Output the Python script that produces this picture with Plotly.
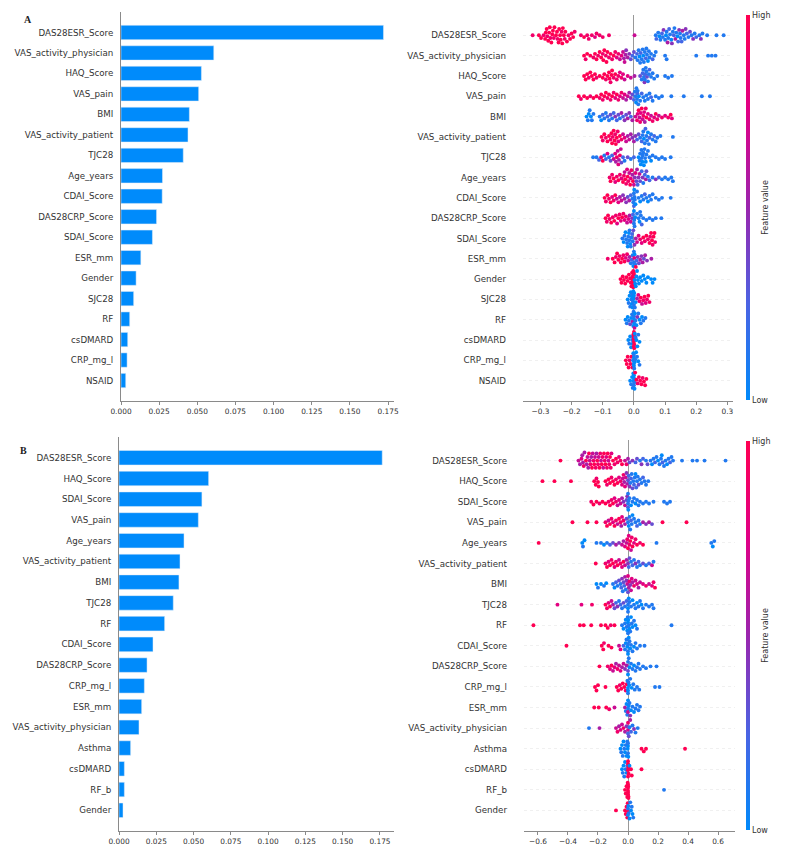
import numpy as np
import plotly.graph_objects as go

# ---------------- data ----------------
features_A = ["DAS28ESR_Score", "VAS_activity_physician", "HAQ_Score", "VAS_pain", "BMI",
              "VAS_activity_patient", "TJC28", "Age_years", "CDAI_Score", "DAS28CRP_Score",
              "SDAI_Score", "ESR_mm", "Gender", "SJC28", "RF", "csDMARD", "CRP_mg_l", "NSAID"]
bar_A = [0.172, 0.0608, 0.0527, 0.0509, 0.0448, 0.0439, 0.0408, 0.0272, 0.0270, 0.0233,
         0.0206, 0.0130, 0.0099, 0.0083, 0.0057, 0.0044, 0.0040, 0.0031]

features_B = ["DAS28ESR_Score", "HAQ_Score", "SDAI_Score", "VAS_pain", "Age_years",
              "VAS_activity_patient", "BMI", "TJC28", "RF", "CDAI_Score", "DAS28CRP_Score",
              "CRP_mg_l", "ESR_mm", "VAS_activity_physician", "Asthma", "csDMARD", "RF_b", "Gender"]
bar_B = [0.1765, 0.0601, 0.0556, 0.0532, 0.0436, 0.0409, 0.0402, 0.0364, 0.0306, 0.0228,
         0.0188, 0.0170, 0.0152, 0.0134, 0.0078, 0.0036, 0.0036, 0.0027]

# SHAP points per feature: "shap_value:feature_level(0 low .. 9 high)"
shap_A = [
    "-0.325:8 -0.305:9 -0.298:9 -0.29:8 -0.285:9 -0.283:9 -0.28:9 -0.278:8 -0.275:9 -0.272:9 -0.27:9 -0.268:8 -0.265:9 -0.262:9 -0.26:9 -0.257:8 -0.255:9 -0.25:9 -0.247:9 -0.245:8 -0.242:9 -0.24:9 -0.237:9 -0.235:9 -0.232:8 -0.23:9 -0.228:9 -0.225:9 -0.222:8 -0.22:9 -0.215:9 -0.21:8 -0.205:9 -0.2:9 -0.195:9 -0.19:8 -0.17:8 -0.16:9 -0.15:8 -0.145:8 -0.135:8 -0.125:7 -0.12:8 -0.11:8 -0.1:8 -0.08:8 0.002:6 0.07:1 0.072:2 0.078:1 0.082:0 0.085:1 0.09:2 0.093:1 0.095:4 0.1:1 0.103:0 0.105:1 0.108:5 0.11:1 0.113:2 0.116:1 0.12:0 0.122:4 0.125:1 0.128:2 0.13:1 0.133:5 0.136:1 0.14:0 0.142:2 0.145:4 0.148:1 0.15:1 0.153:2 0.156:5 0.16:1 0.163:1 0.166:4 0.17:2 0.175:1 0.18:3 0.185:1 0.19:4 0.195:1 0.2:2 0.21:1 0.215:4 0.22:1 0.235:1 0.265:1 0.288:1",
    "-0.16:9 -0.155:8 -0.15:9 -0.14:9 -0.13:8 -0.125:9 -0.12:9 -0.115:8 -0.11:9 -0.105:9 -0.1:8 -0.098:9 -0.095:9 -0.09:8 -0.088:9 -0.085:9 -0.08:8 -0.075:9 -0.07:8 -0.065:9 -0.06:8 -0.055:7 -0.05:8 -0.045:6 -0.04:7 -0.035:6 -0.032:5 -0.03:6 -0.027:5 -0.025:4 -0.02:5 -0.015:4 -0.01:3 -0.005:2 0.0:3 0.005:1 0.01:2 0.012:1 0.015:1 0.018:0 0.02:1 0.022:2 0.025:1 0.028:1 0.03:0 0.032:1 0.035:1 0.038:2 0.04:1 0.042:1 0.045:0 0.048:1 0.05:1 0.055:1 0.06:2 0.065:1 0.07:1 0.1:1 0.105:1 0.2:1 0.238:1 0.25:1 0.262:1",
    "-0.16:9 -0.155:9 -0.15:9 -0.145:8 -0.14:9 -0.135:9 -0.13:9 -0.125:9 -0.12:8 -0.11:9 -0.1:9 -0.095:9 -0.09:8 -0.085:9 -0.08:9 -0.078:9 -0.075:8 -0.072:9 -0.07:9 -0.065:8 -0.06:9 -0.055:8 -0.05:8 -0.045:7 -0.04:8 -0.035:7 -0.03:6 -0.02:7 -0.01:6 0.002:5 0.02:3 0.025:1 0.028:2 0.03:1 0.032:1 0.034:4 0.035:1 0.036:2 0.038:1 0.04:1 0.042:3 0.045:1 0.048:1 0.05:2 0.055:1 0.06:1 0.065:1 0.075:1 0.1:1 0.11:1 0.122:1",
    "-0.177:9 -0.17:8 -0.16:9 -0.15:9 -0.14:8 -0.13:9 -0.12:9 -0.11:8 -0.105:9 -0.1:8 -0.095:9 -0.09:9 -0.085:8 -0.08:9 -0.075:8 -0.07:9 -0.065:8 -0.06:7 -0.055:9 -0.05:8 -0.045:7 -0.04:8 -0.035:6 -0.03:7 -0.025:5 -0.02:6 -0.015:5 -0.01:4 -0.005:3 0.0:2 0.003:1 0.005:1 0.007:0 0.008:1 0.01:1 0.011:2 0.012:1 0.014:1 0.016:0 0.02:1 0.025:2 0.03:1 0.035:1 0.04:1 0.045:1 0.05:1 0.055:2 0.06:1 0.07:1 0.08:1 0.09:1 0.12:1 0.16:1 0.218:1 0.244:1",
    "-0.152:0 -0.148:1 -0.145:0 -0.142:1 -0.138:0 -0.135:1 -0.13:1 -0.11:1 -0.105:0 -0.1:2 -0.095:1 -0.09:1 -0.085:2 -0.08:1 -0.075:3 -0.07:1 -0.065:2 -0.06:4 -0.055:2 -0.05:3 -0.045:1 -0.04:5 -0.035:2 -0.03:4 -0.025:3 -0.02:5 -0.015:4 -0.01:2 -0.005:5 0.005:6 0.01:8 0.012:7 0.015:9 0.018:6 0.02:8 0.022:7 0.025:9 0.028:6 0.03:8 0.033:7 0.035:5 0.038:8 0.04:9 0.045:7 0.05:8 0.055:6 0.06:8 0.065:7 0.07:9 0.075:8 0.08:6 0.09:8 0.1:7 0.11:8 0.118:9 0.122:7",
    "-0.104:9 -0.1:8 -0.095:9 -0.09:8 -0.085:9 -0.08:9 -0.075:8 -0.072:9 -0.07:9 -0.068:8 -0.065:9 -0.062:9 -0.06:8 -0.058:9 -0.055:9 -0.052:8 -0.05:7 -0.045:9 -0.04:8 -0.035:6 -0.03:7 -0.025:6 -0.02:5 -0.015:6 -0.01:5 -0.005:4 0.0:5 0.005:4 0.01:2 0.015:3 0.02:1 0.025:2 0.028:1 0.03:1 0.032:0 0.035:1 0.037:2 0.04:1 0.042:1 0.045:0 0.048:1 0.05:2 0.055:1 0.06:1 0.065:2 0.07:1 0.075:1 0.085:1 0.125:1",
    "-0.131:1 -0.12:1 -0.112:2 -0.105:8 -0.1:9 -0.095:1 -0.09:2 -0.085:7 -0.08:1 -0.075:3 -0.07:2 -0.065:6 -0.06:7 -0.058:5 -0.055:8 -0.052:6 -0.05:7 -0.048:5 -0.045:8 -0.042:6 -0.04:3 -0.035:2 -0.03:1 -0.02:3 -0.01:1 0.0:2 0.015:0 0.018:1 0.02:1 0.022:0 0.024:1 0.025:1 0.027:0 0.028:1 0.03:1 0.032:0 0.034:1 0.036:1 0.038:0 0.04:1 0.045:1 0.05:1 0.055:0 0.06:1 0.07:1 0.08:1 0.09:1 0.1:1 0.118:1",
    "-0.078:8 -0.075:9 -0.07:8 -0.065:9 -0.06:7 -0.055:8 -0.05:9 -0.045:8 -0.04:7 -0.035:9 -0.032:8 -0.03:6 -0.028:9 -0.025:8 -0.022:7 -0.02:9 -0.018:8 -0.015:6 -0.012:9 -0.01:7 -0.008:8 -0.005:5 -0.003:9 0.0:6 0.003:4 0.005:7 0.008:3 0.01:5 0.012:2 0.015:4 0.018:6 0.02:3 0.025:2 0.028:4 0.03:1 0.035:2 0.038:5 0.04:3 0.045:1 0.05:2 0.06:1 0.07:4 0.08:2 0.09:1 0.1:1 0.11:1 0.12:1 0.125:1",
    "-0.094:9 -0.09:8 -0.085:9 -0.08:8 -0.075:9 -0.07:7 -0.065:8 -0.06:9 -0.055:6 -0.05:7 -0.045:5 -0.04:6 -0.035:4 -0.03:5 -0.025:4 -0.02:3 -0.015:5 -0.01:2 -0.005:1 -0.002:1 0.0:1 0.0:2 0.001:0 0.002:1 0.003:1 0.005:0 0.01:1 0.015:1 0.02:0 0.025:1 0.03:1 0.035:2 0.04:1 0.045:0 0.05:1 0.055:1 0.06:1 0.07:1 0.08:1 0.09:1 0.118:1",
    "-0.091:9 -0.087:8 -0.083:9 -0.078:8 -0.073:9 -0.068:8 -0.063:9 -0.058:8 -0.054:7 -0.05:9 -0.046:8 -0.042:7 -0.038:9 -0.034:8 -0.03:7 -0.026:8 -0.022:6 -0.018:7 -0.014:5 -0.01:6 -0.006:4 -0.003:2 0.0:1 0.0:0 0.001:1 0.002:1 0.004:0 0.01:1 0.015:1 0.018:0 0.02:1 0.022:1 0.025:2 0.03:1 0.04:1 0.05:1 0.06:1 0.07:1 0.088:1",
    "-0.037:1 -0.033:0 -0.03:1 -0.027:0 -0.025:1 -0.022:1 -0.02:0 -0.018:1 -0.016:0 -0.015:1 -0.014:1 -0.012:0 -0.01:1 -0.008:1 -0.006:2 -0.004:1 -0.002:3 0.002:4 0.006:5 0.01:6 0.015:7 0.02:8 0.025:7 0.03:9 0.035:8 0.04:9 0.045:8 0.05:9 0.052:8 0.055:9 0.058:9 0.06:8 0.063:9 0.066:9 0.068:8",
    "-0.084:8 -0.068:9 -0.062:9 -0.058:8 -0.054:9 -0.05:9 -0.046:8 -0.042:9 -0.038:9 -0.034:8 -0.03:9 -0.026:7 -0.022:8 -0.018:6 -0.014:5 -0.01:1 -0.007:2 -0.004:1 -0.002:0 0.0:1 0.0:1 0.001:7 0.002:0 0.004:1 0.006:9 0.008:2 0.012:4 0.016:3 0.02:5 0.024:4 0.028:5 0.032:3 0.036:5 0.042:4 0.056:5",
    "-0.043:9 -0.04:9 -0.036:9 -0.032:9 -0.028:9 -0.024:9 -0.02:9 -0.016:9 -0.012:9 -0.01:9 -0.008:9 -0.006:9 -0.005:9 -0.004:9 -0.003:9 -0.002:9 -0.002:9 -0.001:9 -0.001:9 0.0:9 0.0:9 0.002:0 0.004:0 0.006:0 0.008:0 0.01:0 0.013:0 0.016:0 0.02:0 0.025:0 0.03:0 0.035:0 0.04:0 0.045:0 0.055:0 0.06:0 0.066:0",
    "-0.02:0 -0.017:1 -0.014:0 -0.012:1 -0.01:0 -0.008:1 -0.007:0 -0.006:0 -0.005:1 -0.004:0 -0.003:1 -0.002:0 -0.001:0 0.0:1 0.0:0 0.001:0 0.003:1 0.006:0 0.01:5 0.014:7 0.018:8 0.022:9 0.026:6 0.03:8 0.034:9 0.038:7 0.042:8 0.046:9 0.05:8",
    "-0.027:0 -0.023:1 -0.02:0 -0.016:1 -0.012:3 -0.009:0 -0.006:1 -0.004:5 -0.002:0 -0.001:1 0.0:0 0.0:1 0.001:0 0.002:6 0.003:0 0.005:1 0.008:0 0.011:4 0.014:1 0.018:0 0.022:1 0.026:0 0.03:1 0.037:1",
    "-0.018:0 -0.015:1 -0.012:0 -0.009:0 -0.006:1 -0.004:0 -0.002:9 -0.001:9 0.0:9 0.0:9 0.0:9 0.0:9 0.001:9 0.001:9 0.002:9 0.003:0 0.005:1 0.008:0 0.011:0 0.014:1 0.018:0",
    "-0.026:9 -0.023:9 -0.02:9 -0.017:9 -0.014:8 -0.011:9 -0.008:9 -0.005:9 -0.003:1 -0.002:0 -0.001:1 0.0:0 0.0:1 0.0:0 0.001:1 0.002:0 0.004:1 0.007:0 0.01:1 0.014:0 0.018:1",
    "-0.012:0 -0.009:1 -0.006:0 -0.004:1 -0.002:0 -0.001:0 0.0:1 0.0:0 0.0:0 0.001:1 0.002:0 0.004:9 0.008:9 0.012:8 0.016:9 0.02:9 0.024:9 0.028:8 0.032:9 0.036:9 0.04:9",
]

shap_B = [
    "-0.45:9 -0.33:6 -0.32:5 -0.31:7 -0.305:5 -0.3:5 -0.295:8 -0.29:5 -0.28:9 -0.275:5 -0.27:6 -0.265:5 -0.26:9 -0.255:6 -0.25:8 -0.245:5 -0.24:9 -0.235:6 -0.23:8 -0.225:9 -0.22:6 -0.215:8 -0.21:5 -0.205:9 -0.2:8 -0.195:6 -0.19:9 -0.185:8 -0.18:6 -0.175:9 -0.17:8 -0.165:6 -0.16:9 -0.155:8 -0.15:9 -0.145:7 -0.14:8 -0.135:9 -0.13:6 -0.125:8 -0.12:9 -0.115:8 -0.11:7 -0.1:9 -0.09:8 -0.08:9 -0.07:8 -0.06:7 -0.05:8 -0.04:9 -0.02:6 -0.01:8 0.0:5 0.01:3 0.03:4 0.05:2 0.06:3 0.08:1 0.09:4 0.1:2 0.12:1 0.13:3 0.15:1 0.16:0 0.17:1 0.18:2 0.19:1 0.2:0 0.21:1 0.22:1 0.225:0 0.23:2 0.24:1 0.25:1 0.26:0 0.27:1 0.28:2 0.29:1 0.3:1 0.36:1 0.43:1 0.46:1 0.51:1 0.65:1",
    "-0.57:9 -0.49:9 -0.38:9 -0.225:9 -0.215:9 -0.21:8 -0.2:9 -0.195:9 -0.15:9 -0.14:8 -0.13:9 -0.12:9 -0.11:8 -0.1:9 -0.09:9 -0.08:8 -0.07:9 -0.06:7 -0.05:8 -0.04:7 -0.035:6 -0.03:8 -0.025:5 -0.02:7 -0.015:6 -0.01:4 -0.005:5 0.0:3 0.005:2 0.01:4 0.015:1 0.02:2 0.025:1 0.03:3 0.035:1 0.04:2 0.045:1 0.05:0 0.055:2 0.06:1 0.065:1 0.07:3 0.08:1 0.09:1 0.1:2 0.11:1 0.12:1 0.135:1",
    "-0.245:8 -0.23:9 -0.21:9 -0.19:8 -0.17:9 -0.15:9 -0.13:8 -0.12:9 -0.11:8 -0.1:9 -0.09:7 -0.08:8 -0.07:6 -0.06:7 -0.05:6 -0.04:5 -0.03:4 -0.02:6 -0.01:3 -0.005:4 0.0:1 0.0:2 0.0:1 0.002:0 0.004:1 0.01:1 0.02:0 0.03:1 0.04:1 0.05:0 0.06:1 0.07:1 0.08:1 0.1:1 0.12:1 0.14:1 0.17:1 0.24:1 0.26:1 0.28:1",
    "-0.37:9 -0.27:9 -0.21:9 -0.15:8 -0.14:9 -0.13:6 -0.12:9 -0.11:8 -0.1:7 -0.09:9 -0.08:8 -0.07:6 -0.06:9 -0.05:8 -0.045:5 -0.04:7 -0.03:8 -0.02:5 -0.01:3 0.0:1 0.005:0 0.01:1 0.015:1 0.02:2 0.025:1 0.03:0 0.04:1 0.05:1 0.06:2 0.07:1 0.08:1 0.1:5 0.12:4 0.14:5 0.16:3 0.23:9 0.39:9",
    "-0.595:9 -0.305:0 -0.3:1 -0.29:0 -0.21:1 -0.18:1 -0.16:0 -0.14:1 -0.12:2 -0.1:3 -0.08:5 -0.06:4 -0.04:6 -0.03:5 -0.02:7 -0.01:6 -0.005:8 0.0:9 0.005:7 0.01:8 0.015:9 0.02:6 0.025:8 0.03:9 0.04:7 0.05:8 0.06:9 0.08:8 0.1:9 0.19:1 0.555:1 0.565:0 0.575:1",
    "-0.215:9 -0.15:8 -0.14:9 -0.13:7 -0.12:9 -0.11:8 -0.1:9 -0.09:7 -0.08:8 -0.07:9 -0.06:6 -0.05:8 -0.04:7 -0.03:9 -0.02:6 -0.01:5 0.0:4 0.005:2 0.01:3 0.02:1 0.03:2 0.04:1 0.05:4 0.06:1 0.07:2 0.08:1 0.1:3 0.12:1 0.14:2 0.16:6 0.17:1",
    "-0.21:0 -0.2:1 -0.18:0 -0.16:1 -0.145:0 -0.1:1 -0.09:0 -0.08:2 -0.07:1 -0.06:3 -0.05:1 -0.045:2 -0.04:4 -0.035:1 -0.03:3 -0.025:2 -0.02:5 -0.015:1 -0.01:4 -0.005:6 0.0:3 0.0:7 0.005:5 0.01:8 0.015:4 0.02:6 0.025:7 0.03:5 0.04:8 0.05:6 0.06:7 0.07:5 0.08:6 0.1:7 0.12:8 0.14:6 0.16:7 0.17:8 0.18:9",
    "-0.47:7 -0.31:7 -0.24:8 -0.15:9 -0.14:8 -0.13:7 -0.12:9 -0.11:6 -0.1:5 -0.09:3 -0.08:2 -0.07:4 -0.06:1 -0.05:2 -0.04:1 -0.03:3 -0.02:1 -0.01:2 0.0:1 0.0:0 0.0:1 0.005:0 0.01:1 0.02:1 0.03:0 0.04:1 0.05:1 0.06:0 0.07:1 0.08:1 0.09:0 0.1:1 0.12:1 0.14:1 0.16:1 0.17:1",
    "-0.63:9 -0.32:9 -0.295:9 -0.245:9 -0.18:9 -0.15:9 -0.135:9 -0.115:8 -0.09:9 -0.04:1 -0.03:0 -0.02:1 -0.015:0 -0.01:1 -0.005:0 -0.002:1 0.0:0 0.0:1 0.002:0 0.005:1 0.01:0 0.015:1 0.02:0 0.025:1 0.03:0 0.04:1 0.05:0 0.06:1 0.29:1",
    "-0.41:9 -0.175:9 -0.165:9 -0.16:8 -0.13:9 -0.11:9 -0.06:6 -0.05:7 -0.03:2 -0.02:1 -0.015:0 -0.01:1 -0.005:0 0.0:1 0.0:0 0.0:1 0.005:0 0.01:1 0.015:0 0.02:1 0.03:1 0.04:0 0.05:1 0.06:1 0.08:1 0.11:1",
    "-0.19:9 -0.135:8 -0.12:7 -0.11:9 -0.1:6 -0.09:7 -0.08:5 -0.07:8 -0.06:6 -0.05:7 -0.04:5 -0.03:6 -0.02:4 -0.01:5 0.0:3 0.0:1 0.0:0 0.005:1 0.01:0 0.02:1 0.03:1 0.04:0 0.05:1 0.06:1 0.07:1 0.08:1 0.1:1 0.12:1 0.15:1 0.19:1",
    "-0.22:9 -0.21:9 -0.2:9 -0.15:9 -0.075:9 -0.065:9 -0.055:8 -0.045:9 -0.035:9 -0.025:9 -0.015:8 -0.008:9 -0.004:1 0.0:0 0.0:1 0.0:0 0.003:1 0.008:0 0.015:1 0.025:0 0.035:1 0.045:1 0.06:1 0.075:1 0.18:1 0.21:1",
    "-0.225:9 -0.195:9 -0.145:9 -0.125:8 -0.09:6 -0.02:5 -0.015:1 -0.01:0 -0.005:1 0.0:0 0.0:1 0.0:6 0.005:0 0.01:1 0.015:4 0.02:0 0.03:1 0.04:0 0.05:1 0.06:1 0.07:1 0.08:1",
    "-0.26:1 -0.19:5 -0.08:6 -0.07:8 -0.06:5 -0.05:7 -0.04:6 -0.03:8 -0.02:5 -0.01:4 0.0:6 0.0:2 0.0:8 0.005:3 0.01:1 0.015:5 0.02:2 0.03:1 0.04:4 0.05:1 0.065:1",
    "-0.05:0 -0.045:1 -0.04:0 -0.035:1 -0.03:0 -0.025:1 -0.02:0 -0.015:1 -0.01:0 -0.005:1 -0.002:0 0.0:1 0.0:0 0.0:1 0.002:0 0.09:9 0.105:9 0.12:9 0.38:9",
    "-0.04:0 -0.035:1 -0.03:0 -0.025:1 -0.02:0 -0.015:1 -0.01:0 -0.005:1 0.0:9 0.0:9 0.0:9 0.0:9 0.002:9 0.004:9 0.01:0 0.02:9 0.025:9 0.09:9",
    "-0.02:9 -0.015:9 -0.01:9 -0.005:9 -0.002:9 0.0:9 0.0:9 0.0:9 0.0:9 0.0:9 0.001:9 0.002:9 0.003:9 0.24:1",
    "-0.08:9 -0.02:9 -0.015:9 -0.01:9 -0.005:9 -0.002:9 0.0:9 0.0:0 0.0:1 0.002:0 0.005:1 0.01:0 0.015:1 0.02:0 0.025:1 0.03:0 0.035:1",
]

# ---------------- helpers ----------------
W, H = 789, 851
BLUE = "rgb(0,139,251)"
RED_BLUE = [[0.0, "rgb(0,138,250)"], [0.25, "rgb(75,99,227)"], [0.5, "rgb(154,37,174)"],
            [0.75, "rgb(224,0,134)"], [1.0, "rgb(255,0,82)"]]
FONT = "DejaVu Sans"
TXT = "#333333"


def px_x(a, b):
    return [a / W, b / W]


def px_y(top, bottom):
    return [1 - bottom / H, 1 - top / H]


def parse(row):
    xs, cs = [], []
    for tok in row.split():
        v, c = tok.split(":")
        xs.append(float(v))
        cs.append(int(c))
    return np.array(xs), np.array(cs)


def swarm_offsets(xs, ppu, rowpx, diam=3.4, step=0.9):
    """deterministic beeswarm: returns vertical offsets in row units"""
    n = len(xs)
    maxoff = 0.42 * rowpx
    cands = [0.0]
    k = 1
    while k * step <= maxoff:
        cands += [k * step, -k * step]
        k += 1
    order = np.argsort(xs, kind="stable")
    placed_x, placed_y = [], []
    ys = np.zeros(n)
    for i in order:
        xp = xs[i] * ppu
        near = [(px, py) for px, py in zip(placed_x, placed_y) if abs(px - xp) < diam]
        best, bestd = 0.0, -1.0
        for off in cands:
            if near:
                d = min(np.hypot(xp - px, off - py) for px, py in near)
            else:
                d = np.inf
            if d >= diam:
                best = off
                break
            if d > bestd:
                bestd, best = d, off
        ys[i] = best
        placed_x.append(xp)
        placed_y.append(best)
    return ys / rowpx


def swarm_data(rows, ppu, rowpx):
    X, Y, C = [], [], []
    for r, row in enumerate(rows):
        xs, cs = parse(row)
        ys = swarm_offsets(xs, ppu, rowpx)
        X.extend(xs)
        Y.extend(r + ys)
        C.extend(cs)
    return X, Y, C


fig = go.Figure()

fig.add_trace(go.Bar(x=bar_A, y=features_A, orientation="h", marker_color=BLUE,
                     width=0.7, xaxis="x", yaxis="y", showlegend=False))
fig.add_trace(go.Bar(x=bar_B, y=features_B, orientation="h", marker_color=BLUE,
                     width=0.7, xaxis="x3", yaxis="y3", showlegend=False))


def cbar(top, bottom):
    return dict(
        x=746 / W, xanchor="left", xpad=0, ypad=0,
        y=1 - top / H, yanchor="top", len=(bottom - top) / H, lenmode="fraction",
        thickness=4, outlinewidth=0,
        tickvals=[0, 9], ticktext=["Low", "High"], ticks="", ticklen=0,
        tickfont=dict(family=FONT, size=8, color=TXT),
        title=dict(text="Feature value", side="right", font=dict(family=FONT, size=8, color=TXT)),
    )


XA, YA, CA = swarm_data(shap_A, 311.6, 20.3)
fig.add_trace(go.Scatter(x=XA, y=YA, mode="markers", xaxis="x2", yaxis="y2", showlegend=False,
                         marker=dict(size=3.9, color=CA, colorscale=RED_BLUE, cmin=0, cmax=9,
                                     line=dict(width=0), colorbar=cbar(15, 400))))
XB, YB, CB = swarm_data(shap_B, 150.0, 20.6)
fig.add_trace(go.Scatter(x=XB, y=YB, mode="markers", xaxis="x4", yaxis="y4", showlegend=False,
                         marker=dict(size=3.9, color=CB, colorscale=RED_BLUE, cmin=0, cmax=9,
                                     line=dict(width=0), colorbar=cbar(441, 830))))

tickfont = dict(family=FONT, size=7.4, color=TXT)
labfont = dict(family=FONT, size=8.7, color=TXT)
AX = "#8a8a8a"

bar_x = dict(showline=True, linecolor=AX, linewidth=1, ticks="outside", ticklen=3, tickcolor=AX,
             tickvals=[0, 0.025, 0.05, 0.075, 0.1, 0.125, 0.15, 0.175], tickformat=".3f",
             tickfont=tickfont, showgrid=False, zeroline=False, automargin=False)
bar_y = dict(type="category", showline=True, linecolor=AX, linewidth=1, ticks="",
             tickfont=labfont, showgrid=False, zeroline=False, range=[18, -1],
             ticklabelstandoff=5, automargin=False)

sw_x = dict(showline=True, linecolor=AX, linewidth=1, ticks="outside", ticklen=3, tickcolor=AX,
            dtick=0.1, tickformat=".1f", tickfont=tickfont, showgrid=False,
            zeroline=True, zerolinecolor="#999999", zerolinewidth=1, automargin=False)
sw_y = dict(showline=False, ticks="", tickfont=labfont, showgrid=True, gridcolor="#e6e6e6",
            gridwidth=0.6, griddash="dot", zeroline=False, range=[18, -1],
            tickvals=list(range(18)), ticklabelstandoff=16, automargin=False)

fig.update_layout(
    width=W, height=H, margin=dict(l=0, r=0, t=0, b=0, autoexpand=False),
    paper_bgcolor="white", plot_bgcolor="white", hovermode=False,
    xaxis=dict(bar_x, domain=px_x(121, 394), range=[0, 0.1789], anchor="y"),
    yaxis=dict(bar_y, domain=px_y(12, 401), categoryorder="array", categoryarray=features_A, anchor="x"),
    xaxis2=dict(sw_x, domain=px_x(523, 733), range=[-0.356, 0.318], anchor="y2"),
    yaxis2=dict(sw_y, domain=px_y(15, 401), ticktext=features_A, anchor="x2"),
    xaxis3=dict(bar_x, domain=px_x(119, 394), range=[0, 0.1844], anchor="y3"),
    yaxis3=dict(bar_y, domain=px_y(437, 831), categoryorder="array", categoryarray=features_B, anchor="x3"),
    xaxis4=dict(sw_x, domain=px_x(524, 735), range=[-0.693, 0.713], dtick=0.2, anchor="y4"),
    yaxis4=dict(sw_y, domain=px_y(440, 831), ticktext=features_B, anchor="x4"),
    annotations=[
        dict(text="<b>A</b>", x=28 / W, y=1 - 19 / H, xref="paper", yref="paper", showarrow=False,
             xanchor="center", yanchor="middle",
             font=dict(family="Liberation Serif", size=10, color="#222")),
        dict(text="<b>B</b>", x=23 / W, y=1 - 450 / H, xref="paper", yref="paper", showarrow=False,
             xanchor="center", yanchor="middle",
             font=dict(family="Liberation Serif", size=10, color="#222")),
    ],
)

fig.write_html("out.html", config={"displayModeBar": False, "staticPlot": True},
               post_script="document.body.style.margin='0px';document.body.style.padding='0px';"
                           "document.documentElement.style.overflow='hidden';")
